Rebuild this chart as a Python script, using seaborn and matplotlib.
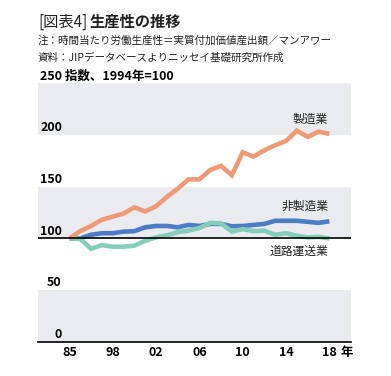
import matplotlib
matplotlib.use("Agg")
import matplotlib.pyplot as plt
import seaborn as sns
import pandas as pd

years = list(range(1994, 2019))
manufacturing = [100, 107, 112, 118, 121, 124, 130, 126, 131, 140, 148, 157, 157, 166, 170, 161, 183, 179, 185, 190, 194, 204, 198, 203, 201]
non_manufacturing = [100, 100, 103.5, 105, 105, 106.5, 107, 110.7, 112, 112, 110.7, 113, 112, 114, 114, 111.7, 112, 113, 114, 117, 117, 117, 116, 115, 116.5]
road_transport = [100, 99.5, 90, 93.5, 92, 92, 93, 97.7, 101, 103, 106, 107.5, 110, 115, 114.5, 106.5, 109, 107, 107.5, 103.5, 105, 102.5, 101, 101.5, 100]

series_names = ["非製造業", "道路運送業", "製造業"]
colors = ["#4C7DC4", "#86CDB9", "#EE9A78"]
tick_years = [1994, 1998, 2002, 2006, 2010, 2014, 2018]
tick_labels = ["85", "98", "02", "06", "10", "14", "18"]
y_ticks = [0, 50, 100, 150, 200]

df = pd.DataFrame({
    "year": years * 3,
    "value": non_manufacturing + road_transport + manufacturing,
    "series": [series_names[0]] * len(years) + [series_names[1]] * len(years) + [series_names[2]] * len(years),
})

sns.set_theme(style="white")
plt.rcParams["font.family"] = ["Noto Sans CJK JP", "DejaVu Sans"]

fig = plt.figure(figsize=(3.91, 3.76), dpi=100)
ax = fig.add_axes([38 / 391, 34 / 376, 313 / 391, 259 / 376])

for lo in (0, 100, 200):
    ax.axhspan(lo, lo + 50, color="#E9EBEE", lw=0, zorder=0)

sns.lineplot(data=df, x="year", y="value", hue="series", hue_order=series_names,
             palette=colors, linewidth=3.3, legend=False, ax=ax, zorder=3)
for ln in ax.get_lines():
    ln.set_solid_capstyle("butt")
    ln.set_solid_joinstyle("miter")

ax.axhline(100, color="black", lw=1.2, zorder=4)
ax.set_xlim(1991.1, 2020)
ax.set_ylim(0, 250)
ax.set_xticks([])
ax.set_yticks([])
ax.set_xlabel("")
ax.set_ylabel("")
for s in ("top", "left", "right"):
    ax.spines[s].set_visible(False)
ax.spines["bottom"].set_color("black")
ax.spines["bottom"].set_linewidth(1.2)

# y tick labels inside
for v in y_ticks:
    ax.text(1991.3 if v >= 100 else (1991.9 if v == 50 else 1992.6), v + 0.8, str(v),
            fontsize=9, fontweight="bold", ha="left", va="bottom", color="black")
ax.text(1991.3, 250.5, "250 指数、1994年=100", fontsize=9, fontweight="bold",
        ha="left", va="bottom", color="black")

# x tick labels
for yr, lab in zip(tick_years, tick_labels):
    ax.text(yr, -4, lab, fontsize=9, fontweight="bold", ha="center", va="top", color="black")
ax.text(2019.0, -4, "年", fontsize=9, fontweight="bold", ha="left", va="top", color="black")

# series labels
ax.text(2017.9, 215, "製造業", fontsize=8.5, ha="right", va="center", color="#222222")
ax.text(2017.9, 130.5, "非製造業", fontsize=8.5, ha="right", va="center", color="#222222")
ax.text(2017.9, 87, "道路運送業", fontsize=8.5, ha="right", va="center", color="#222222")

# titles
fig.text(38 / 391, 1 - 22 / 376, "[図表4]", fontsize=11, ha="left", va="center", color="#222222")
fig.text(90 / 391, 1 - 22 / 376, "生産性の推移", fontsize=11, fontweight="bold", ha="left", va="center", color="#222222")
fig.text(38 / 391, 1 - 41 / 376, "注：時間当たり労働生産性＝実質付加価値産出額／マンアワー", fontsize=7.6,
         ha="left", va="center", color="#222222")
fig.text(38 / 391, 1 - 58 / 376, "資料：JIPデータベースよりニッセイ基礎研究所作成", fontsize=7.6,
         ha="left", va="center", color="#222222")

fig.savefig("out.png", dpi=100, facecolor="white")
